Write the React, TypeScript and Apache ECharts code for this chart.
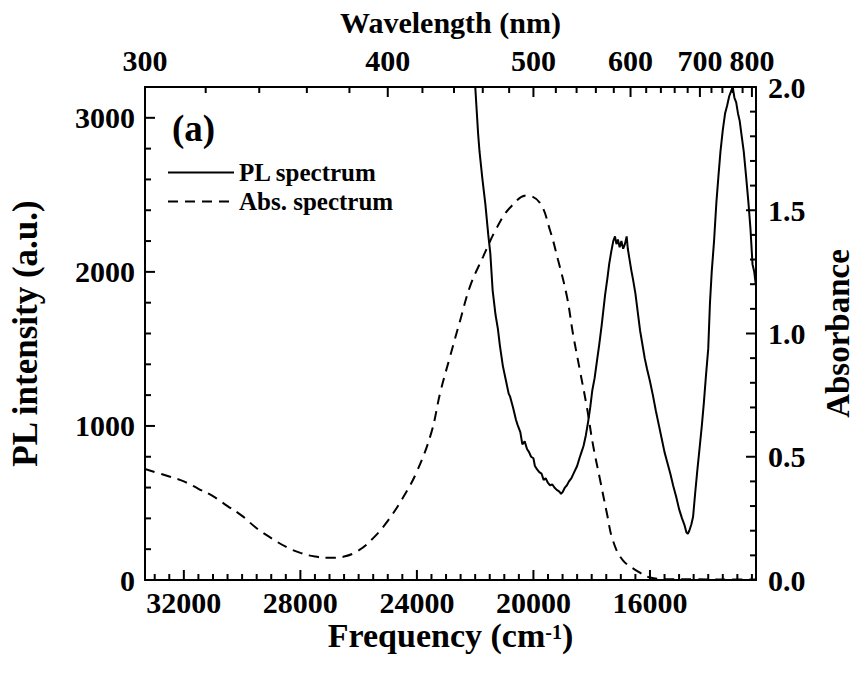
import React, { useEffect, useRef } from "react";
import * as echarts from "echarts";

// ---------- data ----------
const plFreq = [
  22100, 22000, 21900, 21850, 21750, 21650, 21550, 21480, 21400, 21300, 21220, 21150, 21050, 20950, 20850, 20800,
  20700, 20600, 20550, 20450, 20380, 20300, 20220, 20150, 20080, 20000, 19950, 19880, 19800, 19720, 19650, 19580,
  19500, 19430, 19350, 19280, 19200, 19120, 19050, 19000, 18920, 18850, 18780, 18700, 18600, 18500, 18420, 18350,
  18280, 18200, 18120, 18050, 17980, 17900, 17820, 17740, 17660, 17600, 17540, 17460, 17400, 17330, 17260, 17200,
  17150, 17100, 17040, 16980, 16920, 16860, 16800, 16760, 16700, 16640, 16580, 16500, 16420, 16340, 16260, 16180,
  16100, 16000, 15900, 15800, 15700, 15600, 15500, 15400, 15300, 15200, 15100, 15000, 14900, 14820, 14750, 14700,
  14650, 14580, 14520, 14450, 14380, 14300, 14220, 14150, 14080, 14000, 13940, 13880, 13800, 13720, 13650, 13580,
  13500, 13420, 13350, 13280, 13220, 13160, 13100, 13040, 12980, 12920, 12850, 12780, 12700, 12620, 12550, 12480,
  12420, 12370,
];
const plIntensity = [
  3400, 3210, 2900, 2780, 2600, 2440, 2240, 2120, 1880, 1720, 1630, 1520, 1390, 1300, 1210, 1190,
  1120, 1040, 1010, 960, 880, 900, 850, 830, 800, 790, 740, 720, 700, 690, 650, 660,
  630, 615, 620, 600, 585, 575, 560, 570, 600, 615, 640, 660, 700, 740, 790, 830,
  870, 940, 1030, 1120, 1230, 1310, 1420, 1530, 1650, 1750, 1850, 1960, 2050, 2130, 2200, 2230,
  2180, 2210, 2160, 2200, 2150, 2180, 2230, 2150, 2080, 2010, 1950, 1860, 1740, 1620, 1530, 1440,
  1370, 1290, 1200, 1100, 1010, 920, 830, 760, 690, 610, 540, 460, 400, 360, 310, 300,
  320, 360, 410, 560, 700, 850, 1000, 1150, 1320, 1500, 1800, 2000, 2200, 2450, 2620, 2780,
  2920, 3030, 3080, 3140, 3170, 3200, 3130, 3100, 3030, 2980, 2880, 2780, 2620, 2450, 2280, 2050,
  2000, 1920,
];

const absFreq = [
  33333, 32500, 32000, 31500, 31000, 30500, 30000, 29500, 29000, 28500, 28000, 27500, 27000, 26500, 26000, 25500,
  25000, 24500, 24000, 23500, 23200, 22866, 22522, 22179, 21733, 21253, 20806, 20222, 19777, 19434, 19159, 18850,
  18644, 18404, 18164, 17958, 17718, 17477, 17271, 16928, 16345, 16000, 15500, 14500, 13500, 12360,
];
const absValues = [
  0.45, 0.42, 0.4, 0.37, 0.34, 0.3, 0.26, 0.21, 0.17, 0.135, 0.11, 0.095, 0.09, 0.095, 0.12, 0.17,
  0.24, 0.33, 0.44, 0.6, 0.76, 0.905, 1.05, 1.19, 1.31, 1.43, 1.51, 1.56, 1.53, 1.42, 1.3, 1.15,
  1.0, 0.85, 0.7, 0.55, 0.41, 0.27, 0.16, 0.08, 0.03, 0.01, 0.004, 0.003, 0.002, 0.002,
];

const freqTicks = [32000, 28000, 24000, 20000, 16000];
const wavelengthTicks = [300, 400, 500, 600, 700, 800];
const plTicks = [0, 1000, 2000, 3000];

const X_MIN = 12360;
const X_MAX = 1e7 / 300;

// tick marks: [value, 1 = major / 0 = minor]
const bottomTickMarks: number[][] = [];
for (let f = 12500; f <= 33000; f += 500) bottomTickMarks.push([f, f % 4000 === 0 ? 1 : 0]);
const topTickMarks: number[][] = [];
for (let w = 300; w <= 800; w += 20) topTickMarks.push([1e7 / w, w % 100 === 0 ? 1 : 0]);
const leftTickMarks: number[][] = [];
for (let v = 0; v <= 3200; v += 200) leftTickMarks.push([v, v % 1000 === 0 ? 1 : 0]);
const rightTickMarks: number[][] = [];
for (let i = 0; i <= 20; i++) rightTickMarks.push([i / 10, i % 5 === 0 ? 1 : 0]);

const FONT = "'Liberation Serif', 'Times New Roman', serif";
const BLACK = "#000";
const MAJOR = 10;
const MINOR = 6;

export default function App() {
  const ref = useRef<HTMLDivElement>(null);
  useEffect(() => {
    if (!ref.current) return;
    const chart = echarts.init(ref.current, null, { renderer: "svg" });
    const lbl = () => ({ color: BLACK, fontFamily: FONT, fontWeight: "bold", fontSize: 30 });
    const axLine = () => ({ show: true, onZero: false, lineStyle: { color: BLACK, width: 2 } });
    const nameStyle = (size: number) => ({ color: BLACK, fontFamily: FONT, fontWeight: "bold", fontSize: size });

    const option: any = {
      animation: false,
      backgroundColor: "#fff",
      grid: { left: 145, right: 100, top: 87, bottom: 93, containLabel: false, outerBoundsMode: "none" },
      legend: {
        orient: "vertical",
        left: 162,
        top: 155,
        padding: 5,
        itemWidth: 66,
        itemHeight: 14,
        itemGap: 4,
        itemStyle: { opacity: 0 },
        textStyle: { color: BLACK, fontFamily: FONT, fontWeight: "bold", fontSize: 25 },
        data: ["PL spectrum", "Abs. spectrum"],
      },
      xAxis: [
        {
          type: "value",
          position: "bottom",
          min: X_MIN,
          max: X_MAX,
          inverse: true,
          axisLine: axLine(),
          axisTick: { show: false },
          axisLabel: { ...lbl(), margin: 7, customValues: freqTicks, formatter: (v: number) => String(v) },
          splitLine: { show: false },
          name: "{a|Frequency (cm}{s|-1}{a|)}",
          nameLocation: "middle",
          nameGap: 42,
          nameMoveOverlap: false,
          nameTextStyle: {
            rich: {
              a: { ...nameStyle(34), lineHeight: 30, verticalAlign: "bottom" },
              s: { ...nameStyle(20), lineHeight: 18, verticalAlign: "top" },
            },
          },
        },
        {
          type: "value",
          position: "top",
          min: X_MIN,
          max: X_MAX,
          inverse: true,
          axisLine: axLine(),
          axisTick: { show: false },
          axisLabel: {
            ...lbl(),
            margin: 12,
            customValues: wavelengthTicks.map((w) => 1e7 / w),
            formatter: (v: number) => String(Math.round(1e7 / v)),
          },
          splitLine: { show: false },
          name: "Wavelength (nm)",
          nameLocation: "middle",
          nameGap: 50,
          nameMoveOverlap: false,
          nameTextStyle: nameStyle(30),
        },
      ],
      yAxis: [
        {
          type: "value",
          position: "left",
          min: 0,
          max: 3200,
          axisLine: axLine(),
          axisTick: { show: false },
          axisLabel: { ...lbl(), margin: 10, customValues: plTicks, formatter: (v: number) => String(v) },
          splitLine: { show: false },
          name: "PL intensity (a.u.)",
          nameLocation: "middle",
          nameGap: 102,
          nameMoveOverlap: false,
          nameTextStyle: nameStyle(35),
        },
        {
          type: "value",
          position: "right",
          min: 0,
          max: 2,
          interval: 0.5,
          axisLine: axLine(),
          axisTick: { show: false },
          axisLabel: { ...lbl(), margin: 12, formatter: (v: number) => v.toFixed(1) },
          splitLine: { show: false },
          name: "Absorbance",
          nameLocation: "middle",
          nameRotate: 90,
          nameGap: 65,
          nameMoveOverlap: false,
          nameTextStyle: nameStyle(33),
        },
      ],
      series: [
        {
          name: "PL spectrum",
          type: "line",
          xAxisIndex: 0,
          yAxisIndex: 0,
          symbol: "none",
          data: plFreq.map((f, i) => [f, plIntensity[i]]),
          lineStyle: { color: BLACK, width: 2 },
          itemStyle: { color: BLACK },
          clip: true,
        },
        {
          name: "Abs. spectrum",
          type: "line",
          xAxisIndex: 0,
          yAxisIndex: 1,
          symbol: "none",
          smooth: 0.4,
          data: absFreq.map((f, i) => [f, absValues[i]]),
          lineStyle: { color: BLACK, width: 2, type: [10, 7] },
          itemStyle: { color: BLACK },
          clip: true,
        },
      ],
    };
    chart.setOption(option);

    // tick marks positioned through the axes' own scales
    const toPx = (seriesIndex: number, v: number[]) =>
      chart.convertToPixel({ seriesIndex }, v) as unknown as number[];
    const els: any[] = [
      {
        type: "text",
        left: 172,
        top: 110,
        style: { text: "(a)", fill: BLACK, font: `bold 37px ${FONT}` },
      },
    ];
    const rect = (x: number, y: number, w: number, h: number) => ({
      type: "rect",
      silent: true,
      z: 50,
      shape: { x, y, width: w, height: h },
      style: { fill: BLACK },
    });
    bottomTickMarks.forEach(([v, m]) => {
      const p = toPx(0, [v, 0]);
      const len = m ? MAJOR : MINOR;
      if (p) els.push(rect(p[0] - 1, p[1] - len, 2, len));
    });
    topTickMarks.forEach(([v, m]) => {
      const p = toPx(0, [v, 3200]);
      const len = m ? MAJOR : MINOR;
      if (p) els.push(rect(p[0] - 1, p[1], 2, len));
    });
    leftTickMarks.forEach(([v, m]) => {
      const p = toPx(0, [X_MAX, v]);
      const len = m ? MAJOR : MINOR;
      if (p) els.push(rect(p[0], p[1] - 1, len, 2));
    });
    rightTickMarks.forEach(([v, m]) => {
      const p = toPx(1, [X_MIN, v]);
      const len = m ? MAJOR : MINOR;
      if (p) els.push(rect(p[0] - len, p[1] - 1, len, 2));
    });
    chart.setOption({ graphic: els });
    return () => chart.dispose();
  }, []);
  return (
    <div
      ref={ref}
      style={{ position: "fixed", left: 0, top: 0, width: 856, height: 673, background: "#fff" }}
    />
  );
}
